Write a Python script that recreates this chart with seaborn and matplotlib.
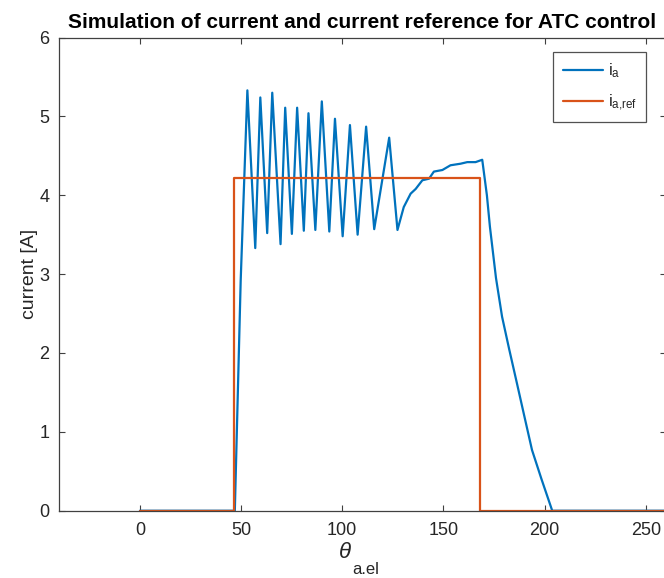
import numpy as np
import pandas as pd
import matplotlib
matplotlib.use("Agg")
import matplotlib.pyplot as plt
import seaborn as sns

# Phase current
theta_ia = [0, 46.9, 49.8, 53.1, 57.0, 59.5, 62.9, 65.4, 69.5, 71.8, 75.1, 77.7,
            81.0, 83.3, 86.7, 89.9, 93.6, 96.4, 100.2, 103.8, 107.6, 111.8,
            115.8, 123.2, 127.3, 130.4, 133.8, 136.3, 139.6, 142.9, 145.3,
            149.5, 153.5, 158.5, 161.8, 165.9, 169.2, 171.5, 173.0, 176.0,
            179.0, 182.5, 186.4, 190.0, 193.8, 198.5, 203.8, 260]
i_a = [0, 0, 2.92, 5.33, 3.33, 5.24, 3.52, 5.30, 3.38, 5.11, 3.51, 5.11,
       3.55, 5.04, 3.56, 5.19, 3.54, 4.97, 3.48, 4.89, 3.50, 4.87,
       3.57, 4.73, 3.56, 3.85, 4.02, 4.08, 4.19, 4.21, 4.30,
       4.32, 4.38, 4.40, 4.42, 4.42, 4.45, 4.00, 3.60, 2.95,
       2.46, 2.05, 1.61, 1.20, 0.77, 0.40, 0, 0]

# Current reference
theta_ref = [0, 46.5, 46.5, 168.0, 168.0, 260]
i_ref = [0, 0, 4.22, 4.22, 0, 0]

x_ticks = [0, 50, 100, 150, 200, 250]
y_ticks = [0, 1, 2, 3, 4, 5, 6]

sns.set_theme(style="white")
plt.rcParams['font.family'] = ['Liberation Sans', 'DejaVu Sans']
plt.rcParams['mathtext.fontset'] = 'custom'
plt.rcParams['mathtext.rm'] = 'Liberation Sans'
plt.rcParams['mathtext.it'] = 'Liberation Sans:italic'

fig = plt.figure(figsize=(6.64, 5.78), dpi=100)
ax = fig.add_axes([0.0889, 0.1164, 0.914, 0.8187])

df_a = pd.DataFrame({"theta": theta_ia, "current": i_a})
df_ref = pd.DataFrame({"theta": theta_ref, "current": i_ref})

blue = "#0072BD"
orange = "#D95319"
sns.lineplot(data=df_a, x="theta", y="current", ax=ax, color=blue, lw=1.6,
             estimator=None, sort=False, label=r"$\mathregular{i_a}$")
sns.lineplot(data=df_ref, x="theta", y="current", ax=ax, color=orange, lw=1.6,
             estimator=None, sort=False, label=r"$\mathregular{i_{a{,}ref}}$")

ax.set_xlim(-40, 260)
ax.set_ylim(0, 6)
ax.set_xticks(x_ticks)
ax.set_yticks(y_ticks)
ax.tick_params(direction="in", length=4, width=0.8, colors="#404040",
               labelcolor="#262626", labelsize=13, top=True, right=True,
               bottom=True, left=True)
ax.tick_params(axis="x", pad=8)
ax.tick_params(axis="y", pad=7)
for s in ax.spines.values():
    s.set_color("#404040")
    s.set_linewidth(0.9)

ax.set_title("Simulation of current and current reference for ATC control",
             fontsize=15, fontweight="bold", color="black", pad=7)
ax.set_ylabel("current [A]", fontsize=14, color="#262626", labelpad=1)
ax.set_xlabel("")

# x label: theta with a lowered subscript, as in the reference
fig.text(352 / 664, 1 - 552 / 578, r"$\theta$", fontsize=16, color="#262626",
         ha="right", va="center")
fig.text(352 / 664, 1 - 570 / 578, "a.el", fontsize=12, color="#262626",
         ha="left", va="center")

leg = ax.legend(loc="upper right", bbox_to_anchor=(0.967, 0.969), borderaxespad=0,
                frameon=True, fancybox=False, edgecolor="#262626", fontsize=12,
                handlelength=2.4, handletextpad=0.3, borderpad=0.55, labelspacing=0.75)
leg.get_frame().set_linewidth(0.9)

fig.savefig("out.png", dpi=100, facecolor="white")
